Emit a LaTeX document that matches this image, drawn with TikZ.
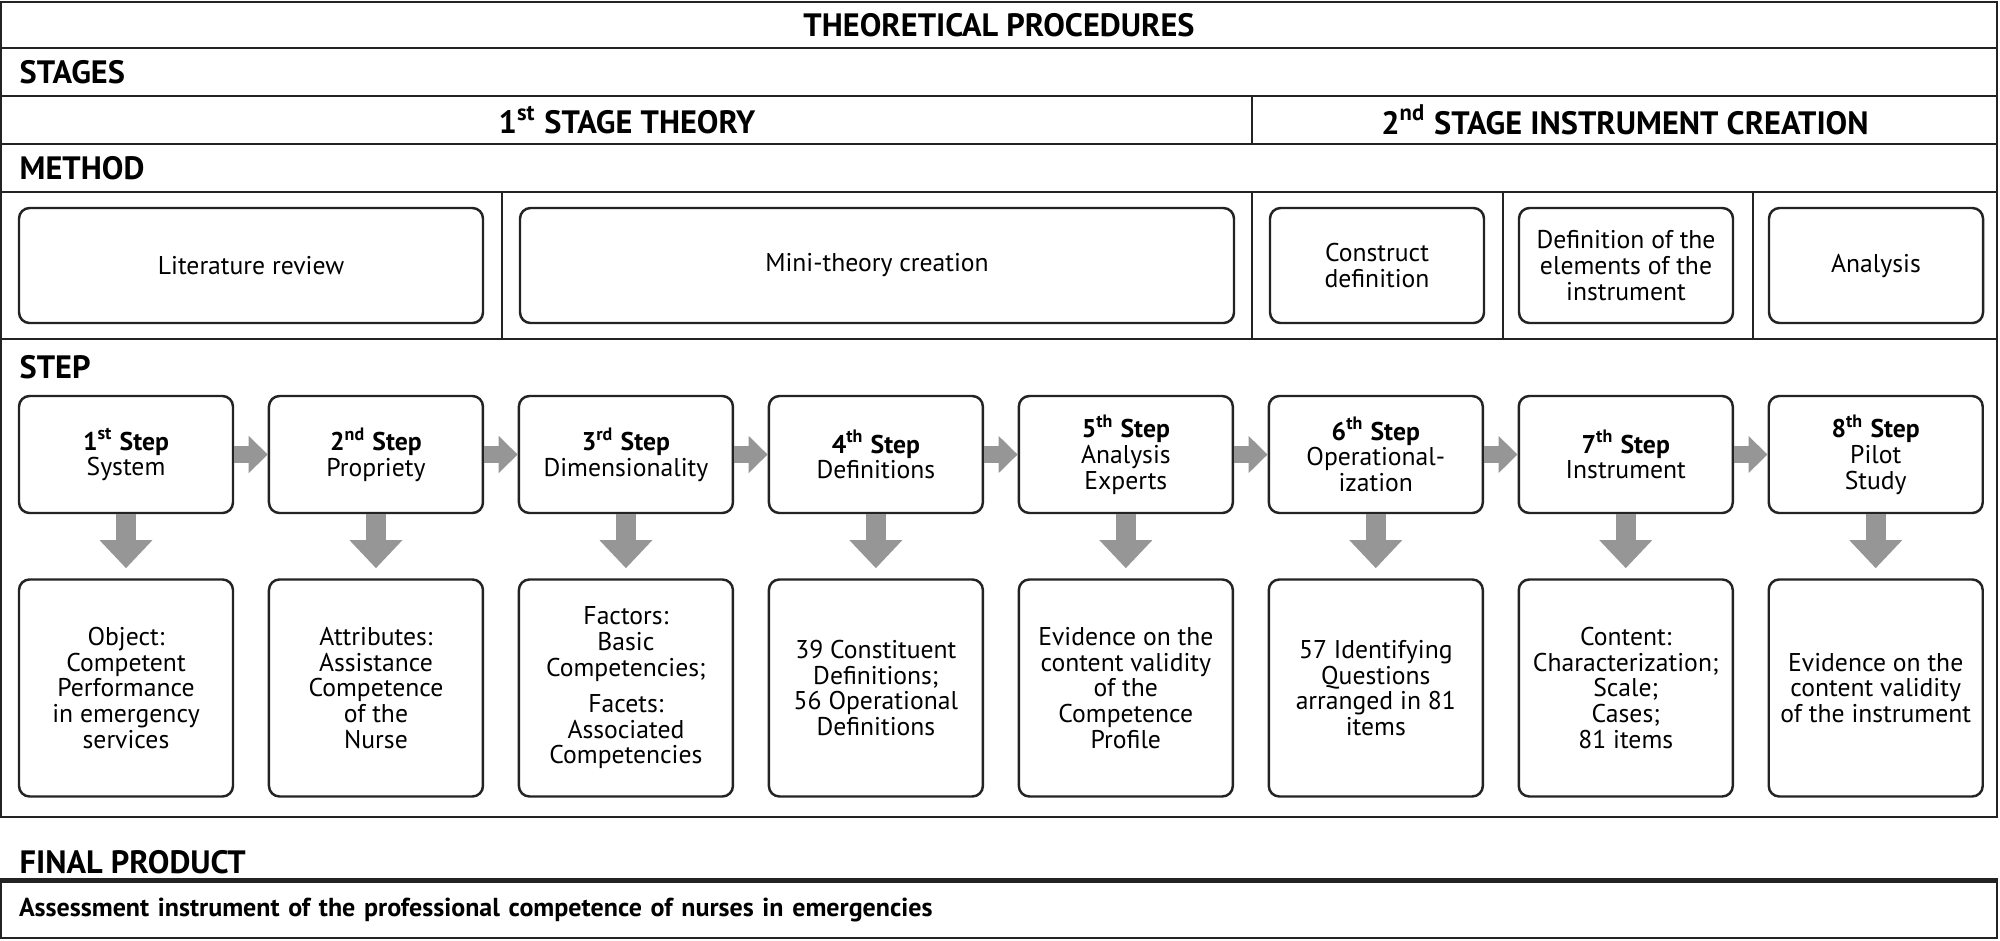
\documentclass[tikz,border=0pt]{standalone}
\usepackage{fontspec}
\setmainfont{PT Sans}
\usetikzlibrary{arrows.meta, positioning}
\definecolor{ArrowGray}{RGB}{150,150,150}
\definecolor{LineDark}{RGB}{35,35,35}

\begin{document}
\begin{tikzpicture}[
  font=\fontsize{7.3}{7.3}\selectfont,
  node distance=0.64cm and 0.335cm,
  box/.style={draw=LineDark, line width=0.7pt, rounded corners=3pt, align=center, inner sep=1pt},
  methbox/.style={box, minimum height=1.15cm},
  stepbox/.style={box, minimum width=2.14cm, minimum height=1.17cm},
  resbox/.style={box, minimum width=2.14cm, minimum height=2.17cm},
  head/.style={font=\fontsize{9.2}{10}\selectfont\bfseries, inner sep=0pt},
  grid/.style={draw=LineDark, line width=0.8pt},
  harr/.style={draw=ArrowGray, line width=0.17cm, -{Triangle[width=0.36cm, length=0.19cm]}},
  darr/.style={draw=ArrowGray, line width=0.20cm, -{Triangle[width=0.51cm, length=0.28cm]}, shorten >=0.1cm}
]
  \useasboundingbox (0,0) rectangle (20,-9.4);

  % table frame
  \draw[grid] (0.01,-0.02) rectangle (19.97,-8.17);
  \foreach \y in {-0.48,-0.96,-1.44,-1.92,-3.39}
    \draw[grid] (0.01,\y) -- (19.97,\y);
  \draw[grid] (12.52,-0.96) -- (12.52,-1.44);
  \foreach \x in {5.02,12.52,15.03,17.53}
    \draw[grid] (\x,-1.92) -- (\x,-3.39);

  % headings
  \node[head] (title) at (9.99,-0.25) {THEORETICAL PROCEDURES};
  \node[head, anchor=west] (stages) at (0.19,-0.72) {STAGES};
  \node[head] (stage1) at (6.27,-1.20) {1\textsuperscript{st} STAGE THEORY};
  \node[head] (stage2) at (16.25,-1.20) {2\textsuperscript{nd} STAGE INSTRUMENT CREATION};
  \node[head, anchor=west] (method) at (0.19,-1.68) {METHOD};
  \node[head, anchor=west] (steplbl) at (0.19,-3.67) {STEP};

  % methods
  \node[methbox, minimum width=4.64cm] (litrev) at (2.51,-2.655) {Literature review};
  \node[methbox, minimum width=7.14cm] (mini) at (8.77,-2.655) {Mini-theory creation};
  \node[methbox, minimum width=2.14cm] (construct) at (13.77,-2.655) {Construct\\definition};
  \node[methbox, minimum width=2.14cm] (elements) at (16.26,-2.655) {Definition of the\\elements of the\\instrument};
  \node[methbox, minimum width=2.14cm] (analysis) at (18.76,-2.655) {Analysis};

  % steps
  \node[stepbox] (s1) at (1.26,-4.545) {\textbf{1\textsuperscript{st} Step}\\System};
  \node[stepbox, right=of s1] (s2) {\textbf{2\textsuperscript{nd} Step}\\Propriety};
  \node[stepbox, right=of s2] (s3) {\textbf{3\textsuperscript{rd} Step}\\Dimensionality};
  \node[stepbox, right=of s3] (s4) {\textbf{4\textsuperscript{th} Step}\\Definitions};
  \node[stepbox, right=of s4] (s5) {\textbf{5\textsuperscript{th} Step}\\Analysis\\Experts};
  \node[stepbox, right=of s5] (s6) {\textbf{6\textsuperscript{th} Step}\\Operational-\\ization};
  \node[stepbox, right=of s6] (s7) {\textbf{7\textsuperscript{th} Step}\\Instrument};
  \node[stepbox, right=of s7] (s8) {\textbf{8\textsuperscript{th} Step}\\Pilot\\Study};

  % results
  \node[resbox, below=of s1] (r1) {Object:\\Competent\\Performance\\in emergency\\services};
  \node[resbox, below=of s2] (r2) {Attributes:\\Assistance\\Competence\\of the\\Nurse};
  \node[resbox, below=of s3] (r3) {Factors:\\Basic\\Competencies;\\[3pt]Facets:\\Associated\\Competencies};
  \node[resbox, below=of s4] (r4) {39 Constituent\\Definitions;\\56 Operational\\Definitions};
  \node[resbox, below=of s5] (r5) {Evidence on the\\content validity\\of the\\Competence\\Profile};
  \node[resbox, below=of s6] (r6) {57 Identifying\\Questions\\arranged in 81\\items};
  \node[resbox, below=of s7] (r7) {Content:\\Characterization;\\Scale;\\Cases;\\81 items};
  \node[resbox, below=of s8] (r8) {Evidence on the\\content validity\\of the instrument};

  \draw[harr] (s1) -- (s2);
  \draw[harr] (s2) -- (s3);
  \draw[harr] (s3) -- (s4);
  \draw[harr] (s4) -- (s5);
  \draw[harr] (s5) -- (s6);
  \draw[harr] (s6) -- (s7);
  \draw[harr] (s7) -- (s8);

  \draw[darr] (s1) -- (r1);
  \draw[darr] (s2) -- (r2);
  \draw[darr] (s3) -- (r3);
  \draw[darr] (s4) -- (r4);
  \draw[darr] (s5) -- (r5);
  \draw[darr] (s6) -- (r6);
  \draw[darr] (s7) -- (r7);
  \draw[darr] (s8) -- (r8);

  % final product
  \node[head, anchor=west] (finallbl) at (0.19,-8.62) {FINAL PRODUCT};
  \node[draw=LineDark, line width=0.8pt, minimum width=19.96cm, minimum height=0.56cm,
        text width=19.6cm, inner xsep=0.18cm, font=\fontsize{7.4}{8}\selectfont\bfseries]
    (final) at (9.99,-9.10) {Assessment instrument of the professional competence of nurses in emergencies};
  \draw[LineDark, line width=1.3pt] (final.north west) -- (final.north east);
\end{tikzpicture}
\end{document}
